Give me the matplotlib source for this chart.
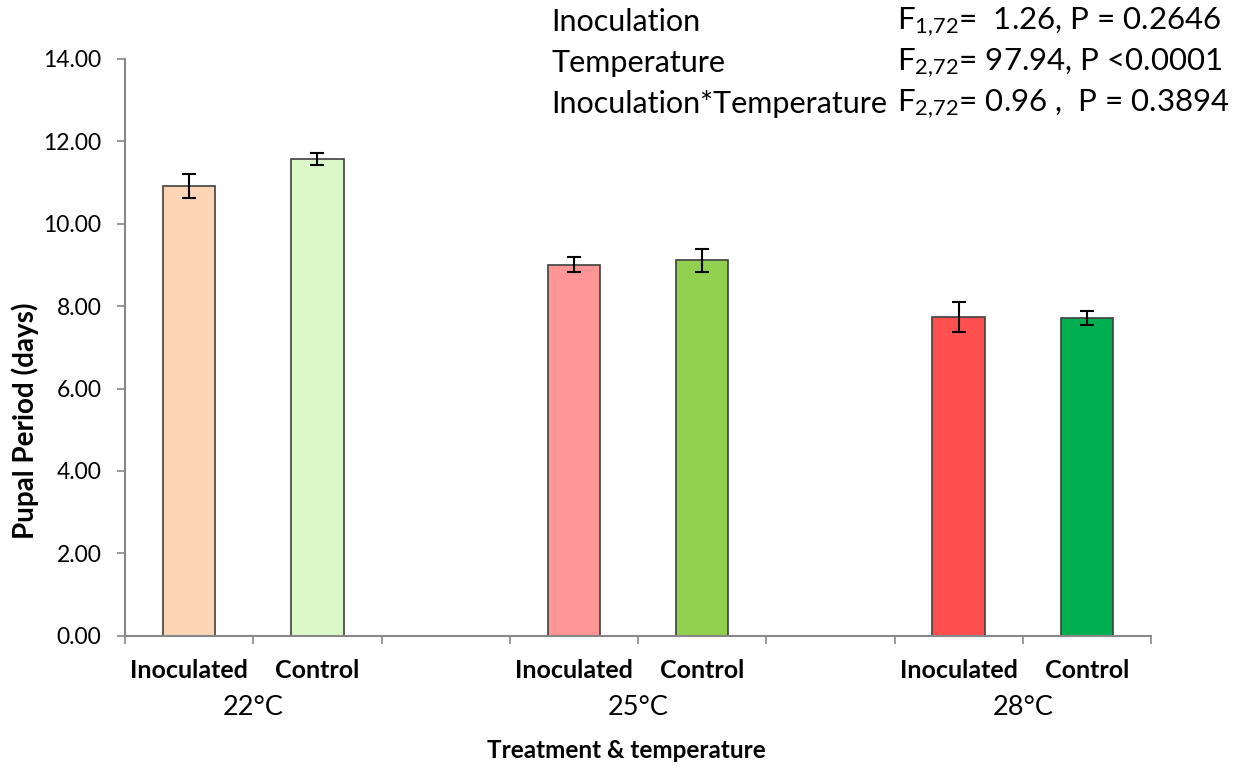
import matplotlib
matplotlib.use("Agg")
import matplotlib.pyplot as plt

plt.rcParams['font.family'] = ['Lato', 'DejaVu Sans']
plt.rcParams['mathtext.fontset'] = 'custom'
plt.rcParams['mathtext.rm'] = 'Lato'
plt.rcParams['mathtext.it'] = 'Lato:italic'
plt.rcParams['mathtext.bf'] = 'Lato:bold'

temperatures = ["22°C", "25°C", "28°C"]
treatments = ["Inoculated", "Control"]
means = [10.92, 11.57, 9.01, 9.11, 7.74, 7.71]
errors = [0.29, 0.14, 0.17, 0.27, 0.36, 0.18]
colors = ["#FCD5B5", "#DAF8C8", "#FF9595", "#92D050", "#FF5050", "#00B050"]
positions = [0.5, 1.5, 3.5, 4.5, 6.5, 7.5]
stat_terms = ["Inoculation", "Temperature", "Inoculation*Temperature"]
stat_values = [r"F$_{1{,}72}$=  1.26, P = 0.2646",
               r"F$_{2{,}72}$= 97.94, P <0.0001",
               r"F$_{2{,}72}$= 0.96 ,  P = 0.3894"]

fig = plt.figure(figsize=(12.48, 7.69), dpi=100)
ax = fig.add_axes([0.1002, 0.1733, 0.8221, 0.7501])

ax.bar(positions, means, width=0.41, color=colors, edgecolor="#404040", linewidth=1.2,
       yerr=errors, error_kw=dict(ecolor="black", elinewidth=1.5, capsize=5, capthick=1.5),
       zorder=2)

ax.set_xlim(0, 8)
ax.set_ylim(0, 14)
ax.set_yticks(range(0, 15, 2))
ax.set_yticklabels([f"{v:.2f}" for v in range(0, 15, 2)], fontsize=16.5)
ax.set_xticks(range(0, 9))
ax.set_xticklabels([])
for s in ["top", "right"]:
    ax.spines[s].set_visible(False)
for s in ["left", "bottom"]:
    ax.spines[s].set_color("#888888")
    ax.spines[s].set_linewidth(1.5)
ax.tick_params(axis="y", direction="out", length=6, width=1.2, color="#888888", pad=11)
ax.tick_params(axis="x", direction="out", length=6, width=1.2, color="#888888")

trans = ax.get_xaxis_transform()
for i, p in enumerate(positions):
    ax.text(p, -0.06, treatments[i % 2], transform=trans, ha="center", va="center",
            fontsize=18, fontweight="bold")
for g, t in enumerate(temperatures):
    cx = (positions[2 * g] + positions[2 * g + 1]) / 2
    ax.text(cx, -0.125, t, transform=trans, ha="center", va="center", fontsize=19.5)

fig.text(626 / 1248, 1 - 750 / 769, "Treatment & temperature", ha="center", va="center",
         fontsize=17.5, fontweight="bold")
fig.text(25 / 1248, 1 - 421 / 769, "Pupal Period (days)", ha="center", va="center",
         rotation=90, fontsize=20, fontweight="bold")

rows_y = [22, 63, 104]
for term, val, y in zip(stat_terms, stat_values, rows_y):
    fig.text(551 / 1248, 1 - y / 769, term, ha="left", va="center", fontsize=22)
    fig.text(897 / 1248, 1 - y / 769, val, ha="left", va="center", fontsize=22.5)

fig.savefig("out.png", dpi=100, facecolor="white")
